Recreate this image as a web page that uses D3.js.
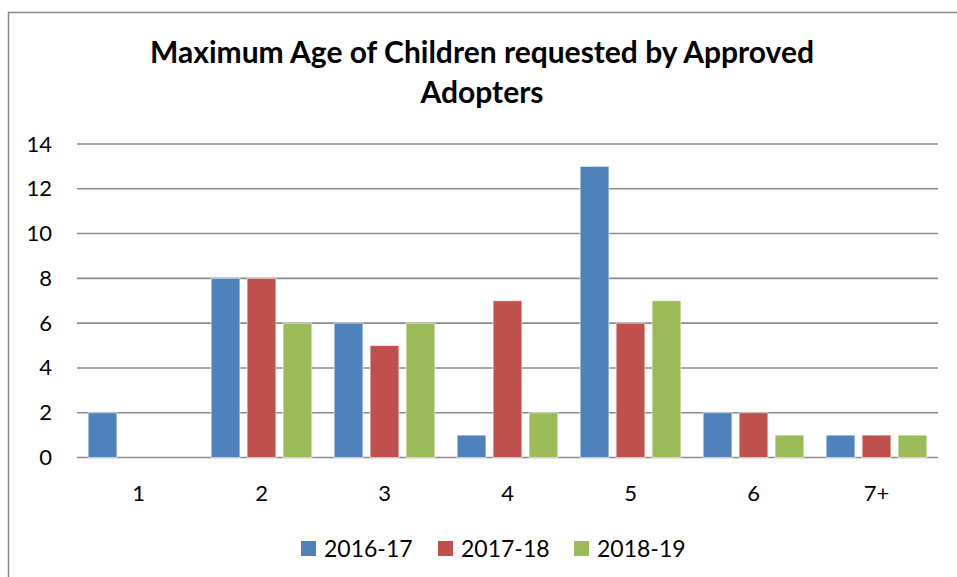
<!DOCTYPE html>
<html>
<head>
<meta charset="utf-8">
<script src="https://cdn.jsdelivr.net/npm/d3@7"></script>
<style>
  body { margin: 0; background: #fff; }
  svg { display: block; font-family: Lato, "Open Sans", sans-serif; }
</style>
</head>
<body>
<svg width="957" height="577"></svg>
<script>
// chart data
var categories = ['1', '2', '3', '4', '5', '6', '7+'];
var seriesNames = ['2016-17', '2017-18', '2018-19'];
var values2016 = [2, 8, 6, 1, 13, 2, 1];
var values2017 = [0, 8, 5, 7, 6, 2, 1];
var values2018 = [0, 6, 6, 2, 7, 1, 1];
var yTicks = [0, 2, 4, 6, 8, 10, 12, 14];
var titleLines = ['Maximum Age of Children requested by Approved', 'Adopters'];

var seriesValues = [values2016, values2017, values2018];
var colors = ['#4F81BD', '#C0504D', '#9BBB59'];

var svg = d3.select('svg');
var plotLeft = 77, plotRight = 938, plotTop = 144, plotBottom = 457.5;

// chart frame (extends past right and bottom edges)
svg.append('rect')
   .attr('x', 8.5).attr('y', 12.5)
   .attr('width', 960).attr('height', 580)
   .attr('fill', 'none')
   .attr('stroke', '#888')
   .attr('stroke-width', 1.5);

var x0 = d3.scaleBand().domain(categories).range([plotLeft, plotRight]);
var x1 = d3.scaleBand().domain(seriesNames).range([0, x0.bandwidth()])
           .paddingInner(0.2).paddingOuter(0.31);
var y = d3.scaleLinear().domain([0, 14]).range([plotBottom, plotTop]);
var colorScale = d3.scaleOrdinal().domain(seriesNames).range(colors);

// gridlines
svg.append('g')
   .selectAll('line')
   .data(yTicks)
   .enter().append('line')
     .attr('x1', plotLeft).attr('x2', plotRight)
     .attr('y1', d => y(d)).attr('y2', d => y(d))
     .attr('stroke', '#8a8a8a')
     .attr('stroke-width', 1.6);

// y axis labels
var yAxis = d3.axisLeft(y).tickValues(yTicks).tickSize(0).tickPadding(0);
svg.append('g')
   .attr('transform', `translate(${plotLeft - 25}, 0)`)
   .call(yAxis)
   .call(g => g.select('.domain').remove())
   .selectAll('text')
     .attr('font-size', 22)
     .attr('fill', '#000')
     .attr('font-family', 'Lato, sans-serif');

// bars
var rows = [];
categories.forEach((c, i) => {
    seriesNames.forEach((s, j) => {
        rows.push({ category: c, series: s, value: seriesValues[j][i] });
    });
});

svg.append('g')
   .selectAll('rect')
   .data(rows.filter(d => d.value > 0))
   .enter().append('rect')
     .attr('x', d => x0(d.category) + x1(d.series))
     .attr('y', d => y(d.value))
     .attr('width', x1.bandwidth())
     .attr('height', d => y(0) - y(d.value))
     .attr('fill', d => colorScale(d.series))
     .attr('stroke', 'rgba(255,255,255,0.6)')
     .attr('stroke-width', 1);

// x axis
var xAxis = d3.axisBottom(x0).tickSize(0).tickPadding(0);
svg.append('g')
   .attr('transform', `translate(0, ${plotBottom})`)
   .call(xAxis)
   .call(g => g.select('.domain').remove())
   .selectAll('text')
     .attr('y', 43)
     .attr('dy', 0)
     .attr('font-size', 22)
     .attr('fill', '#000')
     .attr('font-family', 'Lato, sans-serif');

// title
svg.append('g')
   .selectAll('text')
   .data(titleLines)
   .enter().append('text')
     .attr('x', 482)
     .attr('y', (d, i) => 63 + i * 40)
     .attr('text-anchor', 'middle')
     .attr('font-size', 30)
     .attr('font-weight', 'bold')
     .attr('fill', '#000')
     .text(d => d);

// legend
var legendX = [301, 438, 574];
var legend = svg.append('g')
   .selectAll('g')
   .data(seriesNames)
   .enter().append('g')
     .attr('transform', (d, i) => `translate(${legendX[i]}, 541)`);

legend.append('rect')
      .attr('width', 15).attr('height', 15)
      .attr('fill', d => colorScale(d));

legend.append('text')
      .attr('x', 23)
      .attr('y', 16)
      .attr('font-size', 23)
      .attr('fill', '#000')
      .text(d => d);
</script>
</body>
</html>
